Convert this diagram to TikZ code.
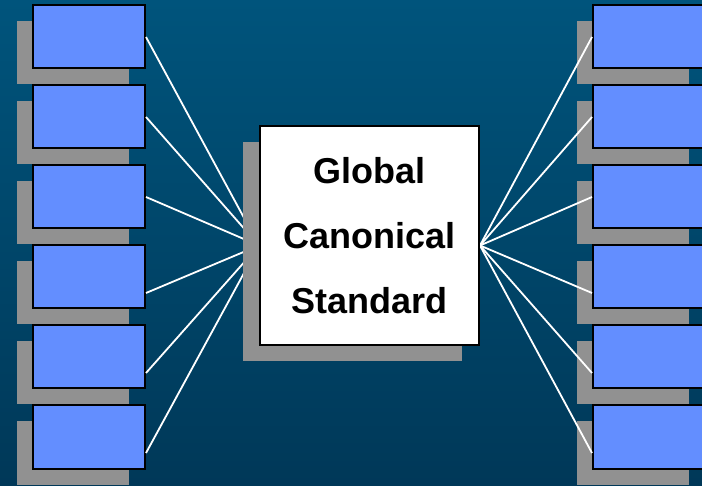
\documentclass[tikz,border=0pt]{standalone}
\usepackage{fontspec}
\setmainfont{Liberation Sans}
\usetikzlibrary{calc,shadows}
\pgfdeclarelayer{front}
\pgfsetlayers{main,front}

\definecolor{bgtop}{RGB}{0,84,124}
\definecolor{bgbottom}{RGB}{0,56,88}
\definecolor{boxblue}{RGB}{99,142,255}
\definecolor{shadowgray}{RGB}{145,145,145}

\begin{document}
\begin{tikzpicture}[x=1pt, y=-1pt,
    %Boxes with a grey shadow down to the left
    sidebox/.style={draw=black, line width=2pt, fill=boxblue, inner sep=0pt,
        minimum width=112pt, minimum height=63pt,
        drop shadow={shadow xshift=-16pt, shadow yshift=-16pt, fill=shadowgray, opacity=1}},
    stdbox/.style={draw=black, line width=2pt, fill=white, inner sep=0pt,
        minimum width=219pt, minimum height=219pt, align=center,
        font=\bfseries\fontsize{36}{65}\selectfont,
        drop shadow={shadow xshift=-17pt, shadow yshift=-16pt, fill=shadowgray, opacity=1}},
    wire/.style={draw=white, line width=1.8pt},
]
    % Background
    \clip (0,0) rectangle (702,486);
    \shade[top color=bgtop, bottom color=bgbottom] (0,0) rectangle (702,486);

    % Left and right columns
    \foreach \i in {1,...,6} {
        \node[sidebox] (L\i) at (89, {37+80*(\i-1)}) {};
        \node[sidebox] (R\i) at (649, {37+80*(\i-1)}) {};
    }

    % Standard in the middle
    \begin{pgfonlayer}{front}
        \node[stdbox] (std) at (369.5, 235.5) {Global\\Canonical\\Standard};
    \end{pgfonlayer}
    \coordinate (hubL) at ($(std.west)+(0,10)$);
    \coordinate (hubR) at ($(std.east)+(0,10)$);

    % Links
    \foreach \i in {1,2,3} {
        \draw[wire] (L\i.east) -- (hubL);
        \draw[wire] (hubR) -- (R\i.west);
    }
    \foreach \i in {4,5,6} {
        \draw[wire] ($(L\i.east)+(0,16)$) -- (hubL);
        \draw[wire] (hubR) -- ($(R\i.west)+(0,16)$);
    }
\end{tikzpicture}
\end{document}
